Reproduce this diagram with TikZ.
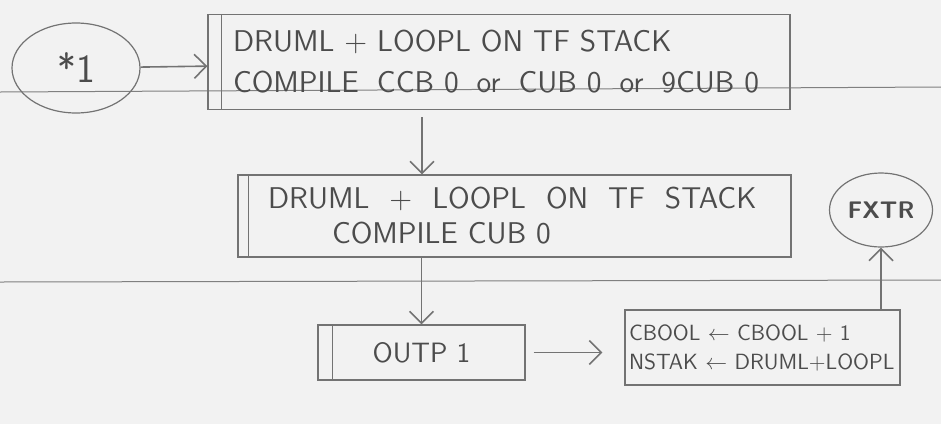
\documentclass[tikz,border=0pt]{standalone}
\usepackage{tikz}
\usepackage{amsmath}
\usepackage{amssymb}
\usetikzlibrary{arrows.meta,shapes.geometric}

\begin{document}
\begin{tikzpicture}[x=0.5pt,y=-0.5pt,
 pencil/.style={draw=black!55,line width=0.6pt},
 sketchbox/.style={pencil,rectangle,align=left,inner xsep=0pt,text=black!70},
 bubble/.style={pencil,ellipse,inner sep=0pt,text=black!70},
 arr/.style={pencil,line width=0.8pt,-{Straight Barb[length=6pt,width=12pt]}},
 paperline/.style={draw=black!50,line width=0.5pt}]
 \useasboundingbox (0,0) rectangle (941,424);
 \fill[black!5] (0,0) rectangle (941,424); %紙

 \draw[paperline] (0,92)--(941,87); %罫線1
 \draw[paperline] (0,282)--(941,280); %罫線2

 \node[bubble,minimum width=64pt,minimum height=45pt,font=\sffamily\fontsize{20}{20}\selectfont] (s1) at (76,68) {*1}; %開始
 \node[sketchbox,minimum width=291pt,minimum height=47.5pt,text width=266pt,font=\sffamily\fontsize{15}{20.5}\selectfont] (b1) at (499,62) {DRUML + LOOPL ON TF STACK\\\mbox{COMPILE\hspace{9pt}CCB 0\hspace{9pt}or\hspace{9pt}CUB 0\hspace{9pt}or\hspace{9pt}9CUB 0}}; %箱1
 \node[sketchbox,minimum width=276.5pt,minimum height=41pt,text width=246.5pt,font=\sffamily\fontsize{15}{17.5}\selectfont] (b2) at (514.5,216) {DRUML\hspace{10pt}+\hspace{10pt}LOOPL\hspace{10pt}ON\hspace{10pt}TF\hspace{10pt}STACK\\\hspace*{32pt}COMPILE CUB 0}; %箱2
 \node[sketchbox,align=center,minimum width=103.5pt,minimum height=27.5pt,font=\sffamily\fontsize{14}{14}\selectfont] (b3) at (421.5,352.5) {OUTP 1}; %箱3
 \node[sketchbox,minimum width=137.5pt,minimum height=37.5pt,text width=133.5pt,font=\sffamily\fontsize{11}{14.5}\selectfont] (b4) at (762.5,347.5) {CBOOL $\leftarrow$ CBOOL + 1\\NSTAK $\leftarrow$ DRUML+LOOPL}; %箱4
 \node[bubble,minimum width=51.5pt,minimum height=37pt,font=\sffamily\bfseries\fontsize{12}{12}\selectfont] (e2) at (881,210) {FXTR}; %終了

 \draw[pencil] ([xshift=7pt]b1.north west)--([xshift=7pt]b1.south west); %二重線
 \draw[pencil] ([xshift=5.5pt]b2.north west)--([xshift=5.5pt]b2.south west);
 \draw[pencil] ([xshift=7.5pt]b3.north west)--([xshift=7.5pt]b3.south west);

 \coordinate (k1) at (422,0); %矢印の位置
 \draw[arr] (s1) -- (b1);
 \draw[arr,shorten <=3.5pt] (b1.south -| k1) -- (b2.north -| k1);
 \draw[arr] (b2.south -| b3.north) -- (b3.north);
 \draw[arr,shorten <=4pt,shorten >=11pt] (b3.east) -- (b3.east -| b4.west);
 \draw[arr] (b4.north -| e2.south) -- (e2.south);
\end{tikzpicture}
\end{document}
